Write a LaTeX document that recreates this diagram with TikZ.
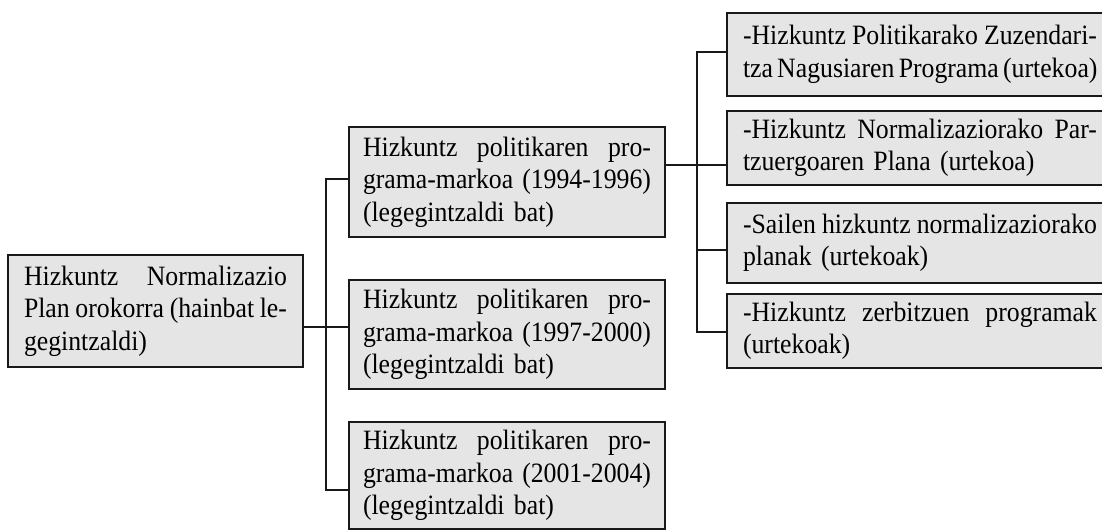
\documentclass[tikz,border=0pt]{standalone}
\usepackage{fontspec}
\setmainfont{Liberation Serif}[FakeStretch=0.92]
\definecolor{boxfill}{RGB}{229,229,229}
\definecolor{edge}{RGB}{25,25,25}
\newcommand\jl[1]{\leavevmode\hbox to\linewidth{\spaceskip=.25em plus 1fil minus .1em\relax #1}}
\tikzset{
  box/.style={draw=edge, fill=boxfill, line width=1.6pt, rectangle,
    inner xsep=16pt, inner ysep=0pt, align=left, anchor=center,
    font=\fontsize{28}{32.5}\selectfont},
  bbox/.style={box, text width=288pt, inner xsep=14pt, minimum height=110pt},
  cbox/.style={box, text width=354pt, inner xsep=16pt},
  link/.style={draw=edge, line width=1.6pt},
}
\begin{document}
\begin{tikzpicture}[x=1pt,y=-1pt]
\useasboundingbox (0,0) rectangle (1102,530);
% root
\node[box, text width=263pt, minimum height=112pt] (root) at (155.5,311)
  {\jl{Hizkuntz Normalizazio}\\\jl{Plan orokorra (hainbat le-}\\gegintzaldi)};
% middle column
\node[bbox] (b1) at (507,182)
  {\jl{Hizkuntz politikaren pro-}\\\jl{grama-markoa (1994-1996)}\\(legegintzaldi bat)};
\node[bbox, minimum height=109pt] (b2) at (507,334.5)
  {\jl{Hizkuntz politikaren pro-}\\\jl{grama-markoa (1997-2000)}\\(legegintzaldi bat)};
\node[bbox, minimum height=107pt] (b3) at (507,475.5)
  {\jl{Hizkuntz politikaren pro-}\\\jl{grama-markoa (2001-2004)}\\(legegintzaldi bat)};
% right column
\node[cbox, minimum height=83pt] (c1) at (920,54.5)
  {\jl{-Hizkuntz Politikarako Zuzendari-}\\\jl{tza Nagusiaren Programa (urtekoa)}};
\node[cbox, minimum height=74pt] (c2) at (920,148)
  {\jl{-Hizkuntz Normalizaziorako Par-}\\tzuergoaren Plana (urtekoa)};
\node[cbox, minimum height=80pt] (c3) at (920,243)
  {\jl{-Sailen hizkuntz normalizaziorako}\\planak (urtekoak)};
\node[cbox, minimum height=74pt] (c4) at (920,331)
  {\jl{-Hizkuntz zerbitzuen programak}\\(urtekoak)};
% junction points
\coordinate (t1top) at (326,179);
\coordinate (t1mid) at (326,327);
\coordinate (t1bot) at (326,490);
\coordinate (t2top) at (697,52);
\coordinate (t2mid) at (697,165);
\coordinate (t2c3) at (697,250);
\coordinate (t2bot) at (697,332);
% connectors
\draw[link] (root.east |- t1mid) -- (b2.west |- t1mid);
\draw[link] (b1.west |- t1top) -- (t1top) -- (t1bot) -- (b3.west |- t1bot);
\draw[link] (b1.east |- t2mid) -- (c2.west |- t2mid);
\draw[link] (c1.west |- t2top) -- (t2top) -- (t2bot) -- (c4.west |- t2bot);
\draw[link] (t2c3) -- (c3.west |- t2c3);
\end{tikzpicture}
\end{document}
